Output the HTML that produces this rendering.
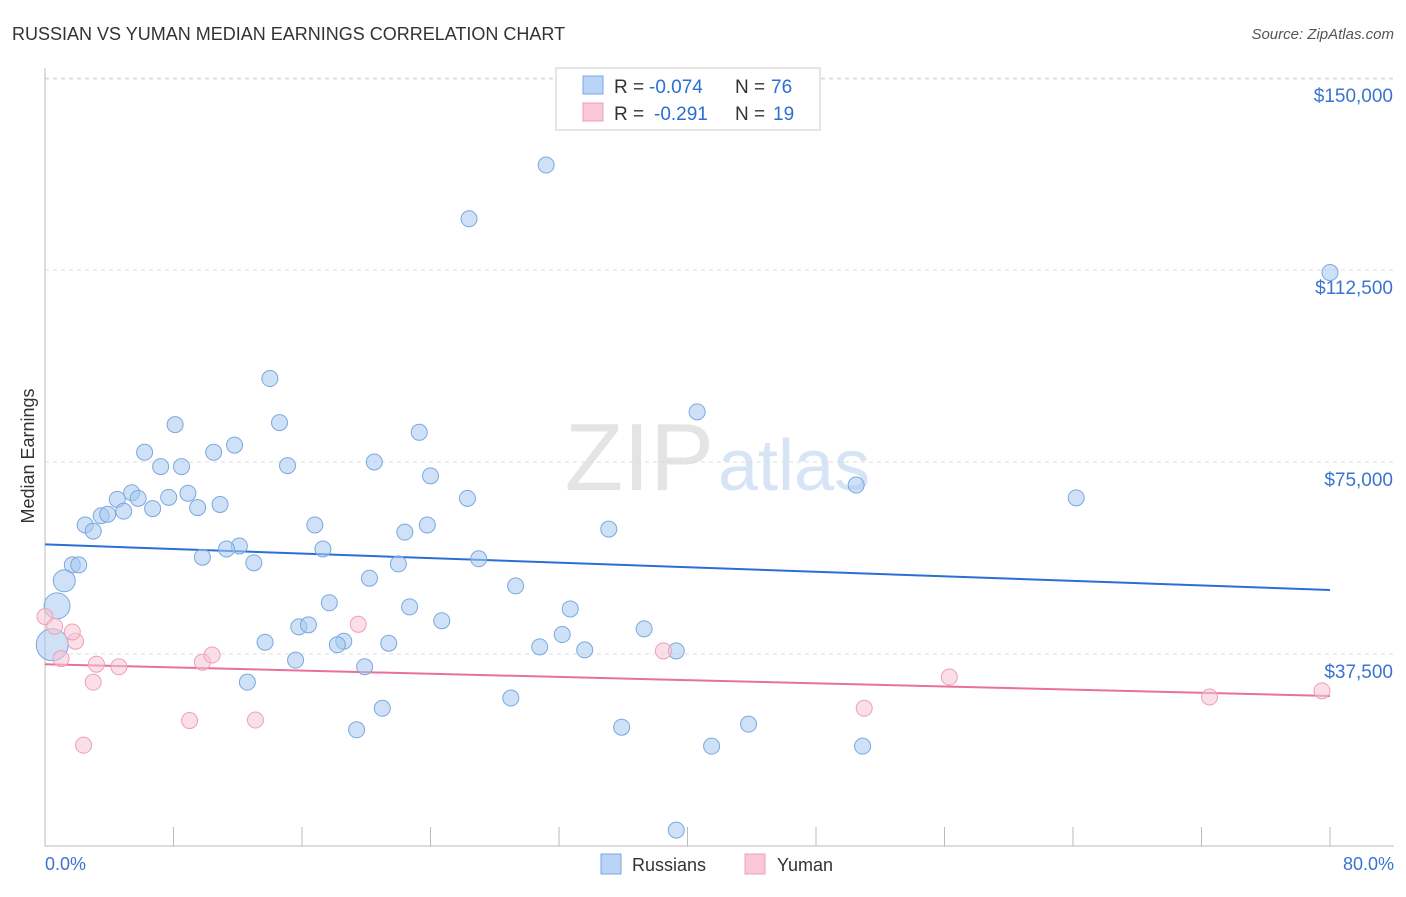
<!DOCTYPE html>
<html><head><meta charset="utf-8"><style>
body{margin:0;background:#fff;font-family:"Liberation Sans",sans-serif;}
svg text{font-family:"Liberation Sans",sans-serif;}
</style></head><body>
<svg id="chart" width="1406" height="892">
<text x="12" y="40" font-size="18" fill="#333">RUSSIAN VS YUMAN MEDIAN EARNINGS CORRELATION CHART</text>
<text x="1394" y="39" font-size="15" fill="#555" font-style="italic" text-anchor="end">Source: ZipAtlas.com</text>
<text x="714" y="490" font-size="96" fill="#e4e4e4" text-anchor="end" font-family="Liberation Serif">ZIP</text>
<text x="718" y="490" font-size="72" fill="#d6e4f6">atlas</text>
<g id="grid"></g><g id="axes"></g><g id="lines"></g><g id="pts"></g>
<text transform="translate(34,456) rotate(-90)" font-size="18" fill="#333" text-anchor="middle">Median Earnings</text>
<text x="45" y="870" font-size="18" fill="#3a74d0">0.0%</text>
<text x="1394" y="870" font-size="18" fill="#3a74d0" text-anchor="end">80.0%</text>
<g>
<rect x="556" y="68" width="264" height="62" fill="#fff" stroke="#ccc"/>
<rect x="583" y="76" width="20" height="18" fill="#b8d4f6" stroke="#7aa8e0"/>
<text x="614" y="93" font-size="19" fill="#333">R =</text>
<text x="649" y="93" font-size="19" fill="#2a6fd4">-0.074</text>
<text x="735" y="93" font-size="19" fill="#333">N =</text>
<text x="771" y="93" font-size="19" fill="#2a6fd4">76</text>
<rect x="583" y="103" width="20" height="18" fill="#f8c8d6" stroke="#eea0b8"/>
<text x="614" y="120" font-size="19" fill="#333">R =</text>
<text x="654" y="120" font-size="19" fill="#2a6fd4">-0.291</text>
<text x="735" y="120" font-size="19" fill="#333">N =</text>
<text x="773" y="120" font-size="19" fill="#2a6fd4">19</text>
</g>
<g>
<rect x="601" y="854" width="20" height="20" fill="#b8d4f6" stroke="#7aa8e0"/>
<text x="632" y="871" font-size="18" fill="#333">Russians</text>
<rect x="745" y="854" width="20" height="20" fill="#f8c8d6" stroke="#eea0b8"/>
<text x="777" y="871" font-size="18" fill="#333">Yuman</text>
</g>
</svg>
<script>
const yTicks=[37500,75000,112500,150000];
const yTickLabels=["$37,500","$75,000","$112,500","$150,000"];
const xTicks=[0,8,16,24,32,40,48,56,64,72,80];
const russX=[31.2,26.4,80,14,40.6,8.1,14.6,23.3,6.2,10.5,11.8,7.2,8.5,15.1,20.5,24,50.5,64.2,5.4,4.5,5.8,7.7,8.9,26.3,10.9,6.7,9.5,3.5,4.9,3.9,2.5,3,16.8,23.8,22.4,35.1,12.1,11.3,17.3,9.8,13,27,22,1.7,2.1,1.2,20.2,29.3,0.75,17.7,22.7,32.7,15.8,16.4,24.7,37.3,32.2,13.7,18.6,18.2,21.4,30.8,33.6,39.3,15.6,19.9,0.45,12.6,29,21,35.9,43.8,19.4,41.5,50.9,39.3];
const russY=[133000,122500,112000,91300,84800,82300,82700,80800,76900,76900,78300,74100,74100,74300,75000,72300,70500,68000,69000,67700,67900,68100,68900,67900,66700,65900,66100,64500,65400,64800,62700,61500,62700,62700,61300,61900,58600,58000,58000,56400,55300,56100,55100,54900,54900,51800,52300,50800,46900,47500,46700,46300,42800,43200,44000,42400,41300,39800,40000,39300,39600,38900,38300,38100,36300,35000,39300,32000,28900,26900,23200,23800,22700,19500,19500,3100];
const russR=[8,8,8,8,8,8,8,8,8,8,8,8,8,8,8,8,8,8,8,8,8,8,8,8,8,8,8,8,8,8,8,8,8,8,8,8,8,8,8,8,8,8,8,8,8,11,8,8,13,8,8,8,8,8,8,8,8,8,8,8,8,8,8,8,8,8,16,8,8,8,8,8,8,8,8,8];
const yumX=[0,0.6,1,1.9,1.7,3.2,4.6,3.0,2.4,9.0,9.8,10.4,13.1,19.5,38.5,51,56.3,72.5,79.5];
const yumY=[44800,42900,36600,40000,41800,35500,35000,32000,19700,24500,35900,37300,24600,43300,38100,26900,33000,29100,30300];
const russLine=[58900,50000];
const yumLine=[35500,29300];
const NS="http://www.w3.org/2000/svg";
const X=p=>45+p*(1330-45)/80;
const Y=v=>846-v*192/37500;
function mk(t,a,parent){const e=document.createElementNS(NS,t);for(const k in a)e.setAttribute(k,a[k]);document.getElementById(parent).appendChild(e);return e;}
yTicks.forEach((v,i)=>{
 const l=mk('line',{x1:45,x2:1394,y1:Y(v),y2:Y(v),stroke:'#ddd','stroke-dasharray':'4,4'},'grid');
 
 
 const t=mk('text',{x:1393,y:Y(v)+24,'font-size':19,fill:'#3a74d0','text-anchor':'end'},'grid');
 t.textContent=yTickLabels[i];
 
 
});
const topGrid=mk('line',{x1:45,x2:1394,y1:79,y2:79,stroke:'#ddd','stroke-dasharray':'4,4'},'grid');


const ya=mk('line',{x1:45,x2:45,y1:68,y2:846,stroke:'#bbb'},'axes');


const xa=mk('line',{x1:45,x2:1394,y1:846,y2:846,stroke:'#bbb'},'axes');


xTicks.forEach(p=>{const t=mk('line',{x1:X(p),x2:X(p),y1:827,y2:846,stroke:'#bbb'},'axes');
 
 });
const bl=mk('line',{x1:X(0),x2:X(80),y1:Y(russLine[0]),y2:Y(russLine[1]),stroke:'#2a6fd4','stroke-width':2},'lines');


const pl=mk('line',{x1:X(0),x2:X(80),y1:Y(yumLine[0]),y2:Y(yumLine[1]),stroke:'#e8709a','stroke-width':2},'lines');


russX.forEach((x,i)=>{const c=mk('circle',{cx:X(x),cy:Y(russY[i]),r:russR[i],fill:'rgba(168,200,240,0.55)',stroke:'#7aa8e0','stroke-width':1},'pts');
 
 });
yumX.forEach((x,i)=>{const c=mk('circle',{cx:X(x),cy:Y(yumY[i]),r:8,fill:'rgba(248,196,212,0.55)',stroke:'#eea0b8','stroke-width':1},'pts');
 
 });
</script>
</body></html>
